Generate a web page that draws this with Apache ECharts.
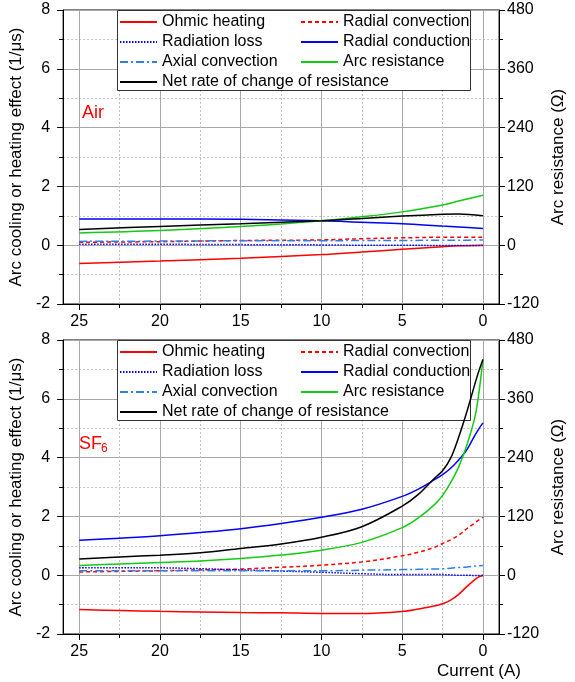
<!DOCTYPE html>
<html>
<head>
<meta charset="utf-8">
<script src="https://cdn.jsdelivr.net/npm/echarts@6/dist/echarts.min.js"></script>
<style>
html,body{margin:0;padding:0;background:#fff;}
#main{width:575px;height:682px;}
</style>
</head>
<body>
<div id="main"></div>
<script>
var FONT = "'Liberation Sans', Arial, sans-serif";
var GRID_MAJOR = '#a8a8a8';
var GRID_MINOR = '#c0c0c0';

// 电流 (A)
var majorTicks = [0, 5, 10, 15, 20, 25];
var minorTicks = [2.5, 7.5, 12.5, 17.5, 22.5];

/* Air */
var airCurrent    = [25, 20, 15, 10, 7.5, 5, 2.5, 1.5, 0];
var airOhmic      = [-0.62, -0.54, -0.44, -0.32, -0.23, -0.14, -0.05, -0.02, 0];
var airRadConv    = [0.10, 0.12, 0.16, 0.18, 0.22, 0.25, 0.27, 0.27, 0.27];
var airRadiation  = [0.03, 0.03, 0.02, 0.01, 0.00, 0.00, -0.01, -0.01, -0.01];
var airRadCond    = [0.89, 0.89, 0.88, 0.83, 0.78, 0.73, 0.65, 0.62, 0.57];
var airAxialConv  = [0.13, 0.14, 0.15, 0.15, 0.16, 0.16, 0.17, 0.17, 0.18];
var airResistance = [25, 30, 38, 50, 58, 68, 82, 90, 102];   // Ω
var airNet        = [0.53, 0.64, 0.73, 0.83, 0.91, 0.99, 1.05, 1.06, 1.00];

/* SF6 */
var sfCurrent    = [25, 22.5, 20, 17.5, 15, 12.5, 10, 7.5, 5, 4, 3, 2.5, 2, 1.5, 1, 0.5, 0.25, 0];
var sfOhmic      = [-1.17, -1.20, -1.23, -1.25, -1.27, -1.28, -1.30, -1.30, -1.23, -1.15, -1.05, -0.97, -0.85, -0.65, -0.39, -0.15, -0.06, 0];
var sfRadConv    = [0.11, 0.13, 0.15, 0.18, 0.21, 0.27, 0.34, 0.45, 0.66, 0.78, 0.95, 1.08, 1.20, 1.36, 1.58, 1.78, 1.88, 1.97];
var sfRadiation  = [0.25, 0.25, 0.25, 0.22, 0.18, 0.14, 0.10, 0.05, 0.02, 0.02, 0.02, 0.02, 0.01, 0.00, 0.00, -0.01, -0.01, -0.01];
var sfRadCond    = [1.19, 1.26, 1.34, 1.45, 1.58, 1.76, 1.97, 2.24, 2.68, 2.93, 3.25, 3.42, 3.64, 3.92, 4.26, 4.76, 4.98, 5.18];
var sfAxialConv  = [0.15, 0.15, 0.15, 0.15, 0.15, 0.15, 0.15, 0.17, 0.19, 0.20, 0.21, 0.22, 0.24, 0.26, 0.28, 0.31, 0.32, 0.33];
var sfResistance = [20, 23, 26, 29, 34, 41, 51, 67, 97, 117, 144, 163, 189, 221, 265, 322, 372, 441];   // Ω
var sfNet        = [0.55, 0.62, 0.68, 0.76, 0.91, 1.06, 1.29, 1.65, 2.35, 2.75, 3.30, 3.55, 3.98, 4.70, 5.55, 6.50, 6.95, 7.34];

var names = ['Ohmic heating', 'Radial convection', 'Radiation loss', 'Radial conduction',
             'Axial convection', 'Arc resistance', 'Net rate of change of resistance'];
var styles = [
	{color: '#ff0000', type: 'solid'},
	{color: '#ff0000', type: [4, 3]},
	{color: '#0000ff', type: [1.5, 1.5]},
	{color: '#0000ff', type: 'solid'},
	{color: '#2f7fe8', type: [8, 3, 2, 3]},
	{color: '#11cc11', type: 'solid'},
	{color: '#000000', type: 'solid'}
];

function pairs(xs, ys){
	return xs.map(function(x, i){ return [x, ys[i]]; });
}

/* 竖直网格线，挂在第一条曲线上 */
function gridMarkLines(){
	var major = majorTicks.map(function(v){
		return {xAxis: v, lineStyle: {color: GRID_MAJOR, width: 1, type: 'solid'}};
	});
	var minor = minorTicks.map(function(v){
		return {xAxis: v, lineStyle: {color: GRID_MINOR, width: 1, type: [2, 2]}};
	});
	return {
		silent: true, symbol: 'none', animation: false, z: 1,
		label: {show: false}, emphasis: {disabled: true},
		data: major.concat(minor)
	};
}

function panelSeries(p, xs, list){
	return list.map(function(ys, i){
		var s = {
			name: names[i],
			type: 'line',
			xAxisIndex: p * 2,
			yAxisIndex: i === 5 ? p * 2 + 1 : p * 2,
			data: pairs(xs, ys),
			symbol: 'none',
			smooth: 0.35,
			lineStyle: {color: styles[i].color, type: styles[i].type, width: 1.5},
			itemStyle: {color: styles[i].color},
			z: i === 6 ? 3 : 2
		};
		if (i === 0) s.markLine = gridMarkLines();
		return s;
	});
}

var gridTops = [10, 340];

function xAxes(p){
	return [{
		type: 'value', gridIndex: p, inverse: true, min: -1, max: 26, position: 'bottom',
		axisLine: {onZero: false, lineStyle: {color: '#000', width: 1}},
		axisTick: {customValues: majorTicks, length: 6, lineStyle: {color: '#000'}},
		axisLabel: {customValues: majorTicks, margin: 10, fontSize: 16, color: '#000', fontFamily: FONT},
		splitLine: {show: false}
	}, {
		type: 'value', gridIndex: p, inverse: true, min: -1, max: 26, position: 'bottom',
		axisLine: {show: false, onZero: false},
		axisTick: {customValues: minorTicks, length: 4, lineStyle: {color: '#000'}},
		axisLabel: {show: false},
		splitLine: {show: false}
	}];
}

function yAxes(p){
	return [{
		type: 'value', gridIndex: p, position: 'left', min: -2, max: 8, interval: 2,
		name: 'Arc cooling or heating effect (1/\u03bcs)',
		nameLocation: 'middle', nameGap: 31,
		nameTextStyle: {fontSize: 17, color: '#000', fontFamily: FONT},
		axisLine: {show: true, onZero: false, lineStyle: {color: '#000'}},
		axisTick: {length: 6, lineStyle: {color: '#000'}},
		minorTick: {show: true, splitNumber: 2, length: 4, lineStyle: {color: '#000'}},
		axisLabel: {margin: 13, fontSize: 16, color: '#000', fontFamily: FONT},
		splitLine: {show: true, lineStyle: {color: GRID_MAJOR, width: 1}},
		minorSplitLine: {show: true, lineStyle: {color: GRID_MINOR, width: 1, type: [2, 2]}}
	}, {
		type: 'value', gridIndex: p, position: 'right', min: -120, max: 480, interval: 120,
		name: 'Arc resistance (\u03a9)',
		nameLocation: 'middle', nameGap: 50,
		nameTextStyle: {fontSize: 17, color: '#000', fontFamily: FONT},
		axisLine: {show: true, onZero: false, lineStyle: {color: '#000'}},
		axisTick: {length: 6, lineStyle: {color: '#000'}},
		minorTick: {show: true, splitNumber: 2, length: 4, lineStyle: {color: '#000'}},
		axisLabel: {margin: 8, fontSize: 16, color: '#000', fontFamily: FONT},
		splitLine: {show: false}
	}];
}

function legends(p){
	var top = gridTops[p] + 4;
	var base = {
		orient: 'vertical', top: top, padding: 0, itemWidth: 37, itemHeight: 14, itemGap: 4,
		itemStyle: {opacity: 0},
		textStyle: {fontSize: 16, lineHeight: 16, color: '#000', fontFamily: FONT}
	};
	return [
		Object.assign({}, base, {left: 119, data: [names[0], names[2], names[4], names[6]]}),
		Object.assign({}, base, {left: 300, data: [names[1], names[3], names[5]]})
	];
}

var myChart = echarts.init(document.getElementById('main'));
var option = {
	animation: false,
	backgroundColor: '#fff',
	grid: gridTops.map(function(t){
		return {left: 57, right: 54, top: t, height: 294, show: true, borderColor: '#000', borderWidth: 1, backgroundColor: 'transparent'};
	}),
	xAxis: xAxes(0).concat(xAxes(1)),
	yAxis: yAxes(0).concat(yAxes(1)),
	legend: legends(0).concat(legends(1)),
	graphic: [
		{type: 'rect', z: 3, shape: {x: 117.5, y: 10.5, width: 353, height: 80}, style: {fill: '#fff', stroke: '#333', lineWidth: 1}},
		{type: 'rect', z: 3, shape: {x: 117.5, y: 340.5, width: 353, height: 80}, style: {fill: '#fff', stroke: '#333', lineWidth: 1}},
		{type: 'text', left: 82, top: 104, z: 5, style: {text: 'Air', fill: '#ff0000', font: '18px ' + FONT}},
		{type: 'text', left: 79, top: 435, z: 5, style: {text: 'SF', fill: '#ff0000', font: '18px ' + FONT}},
		{type: 'text', left: 101, top: 443, z: 5, style: {text: '6', fill: '#ff0000', font: '12px ' + FONT}},
		{type: 'text', right: 54, top: 663, z: 5, style: {text: 'Current (A)', fill: '#000', font: '17px ' + FONT}}
	],
	series: panelSeries(0, airCurrent, [airOhmic, airRadConv, airRadiation, airRadCond, airAxialConv, airResistance, airNet])
		.concat(panelSeries(1, sfCurrent, [sfOhmic, sfRadConv, sfRadiation, sfRadCond, sfAxialConv, sfResistance, sfNet]))
};
myChart.setOption(option);
</script>
</body>
</html>
